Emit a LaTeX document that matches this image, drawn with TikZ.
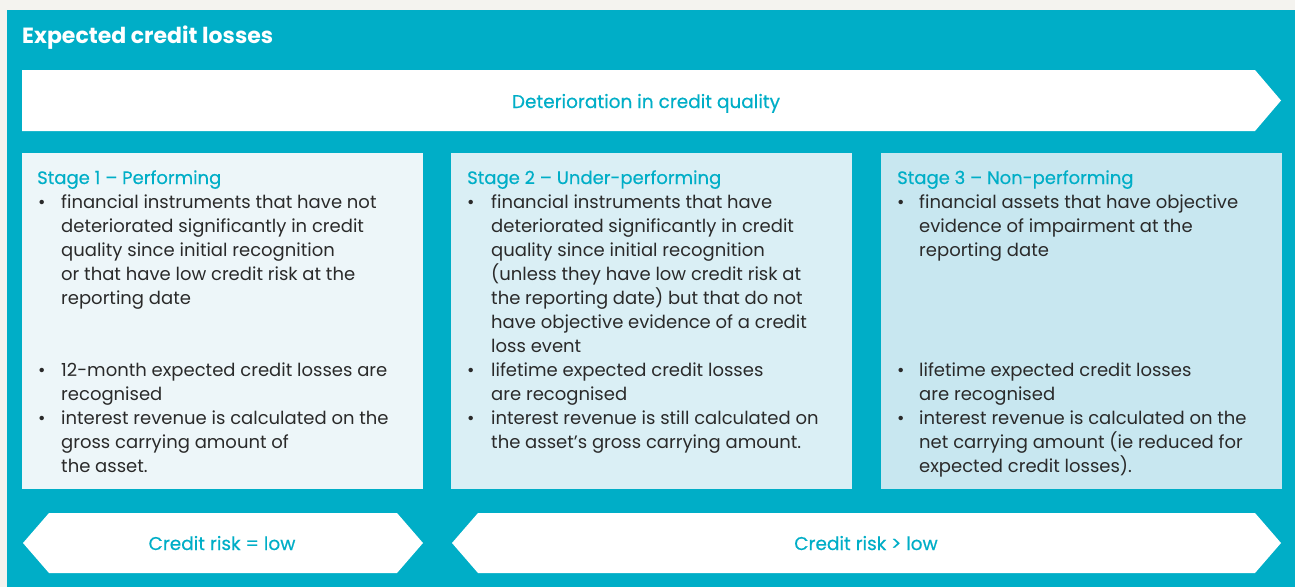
\documentclass[tikz,border=0pt]{standalone}
\usepackage{fontspec}
\setmainfont{Poppins}
\newfontfamily\medfont[FakeBold=0.4]{Poppins}

\definecolor{pagegray}{HTML}{F4F3EF}
\definecolor{eclteal}{HTML}{00AEC7}
\definecolor{stageone}{HTML}{EDF6F9}
\definecolor{stagetwo}{HTML}{DAEFF5}
\definecolor{stagethree}{HTML}{C8E7F0}
\definecolor{ink}{HTML}{2A2A2A}

\newcommand{\textlines}[1]{\parbox[t]{370pt}{\fontsize{18}{24}\selectfont\raggedright #1}}

\begin{document}
\begin{tikzpicture}
        [x=1pt, y=-1pt,
         bodytext/.style={anchor=base west, inner sep=0pt, text=ink},
         bullet/.style={anchor=base west, inner sep=0pt, text=ink, font=\fontsize{18}{24}\selectfont},
         stagetitle/.style={anchor=base west, inner sep=0pt, text=eclteal, font=\medfont\fontsize{18}{24}\selectfont},
         banner/.style={fill=white},
         bannertext/.style={anchor=base, inner sep=0pt, text=eclteal, font=\medfont\fontsize{18.5}{20}\selectfont}]

        \useasboundingbox (0,0) rectangle (1295,587);
        \fill[pagegray] (0,0) rectangle (1295,587);
        \fill[eclteal] (7,10) rectangle (1295,587);

        \node[anchor=base west, inner sep=0pt, text=white, font=\bfseries\fontsize{22}{24}\selectfont] (title) at (22,43) {Expected credit losses};

        % top banner
        \fill[banner] (22,70) -- (1255,70) -- (1281,100.5) -- (1255,131) -- (22,131) -- cycle;
        \node[bannertext] (deterioration) at (646,108) {Deterioration in credit quality};

        % stage boxes
        \foreach \x/\c in {22/stageone, 451/stagetwo, 881/stagethree}
        \fill[\c] (\x,153) rectangle ++(401,336);

        \foreach \x/\y[count=\k] in {38/208, 38/376, 38/424, 467/208, 467/376, 467/424, 897/208, 897/376, 897/424}
        \node[bullet] (dot-\k) at (\x,\y) {•};

        \node[stagetitle] (stage-1) at (37,184) {Stage 1 – Performing};
        \node[stagetitle] (stage-2) at (467,184) {Stage 2 – Under-performing};
        \node[stagetitle] (stage-3) at (897,184) {Stage 3 – Non-performing};

        \node[bodytext] (s1-scope) at (61,208) {\textlines{financial instruments that have not\\deteriorated significantly in credit\\quality since initial recognition\\or that have low credit risk at the\\reporting date}};
        \node[bodytext] (s1-loss) at (61,376) {\textlines{12-month expected credit losses are\\recognised}};
        \node[bodytext] (s1-interest) at (61,424) {\textlines{interest revenue is calculated on the\\gross carrying amount of\\the asset.}};

        \node[bodytext] (s2-scope) at (491,208) {\textlines{financial instruments that have\\deteriorated significantly in credit\\quality since initial recognition\\(unless they have low credit risk at\\the reporting date) but that do not\\have objective evidence of a credit\\loss event}};
        \node[bodytext] (s2-loss) at (491,376) {\textlines{lifetime expected credit losses\\are recognised}};
        \node[bodytext] (s2-interest) at (491,424) {\textlines{interest revenue is still calculated on\\the asset’s gross carrying amount.}};

        \node[bodytext] (s3-scope) at (919,208) {\textlines{financial assets that have objective\\evidence of impairment at the\\reporting date}};
        \node[bodytext] (s3-loss) at (919,376) {\textlines{lifetime expected credit losses\\are recognised}};
        \node[bodytext] (s3-interest) at (919,424) {\textlines{interest revenue is calculated on the\\net carrying amount (ie reduced for\\expected credit losses).}};

        % credit risk banners
        \fill[banner] (23,543) -- (49,513) -- (397,513) -- (423,543) -- (397,573) -- (49,573) -- cycle;
        \fill[banner] (452,543) -- (478,513) -- (1255,513) -- (1281,543) -- (1255,573) -- (478,573) -- cycle;
        \node[bannertext] (risk-low) at (222,550) {Credit risk = low};
        \node[bannertext] (risk-high) at (866,550) {Credit risk > low};
\end{tikzpicture}
\end{document}
